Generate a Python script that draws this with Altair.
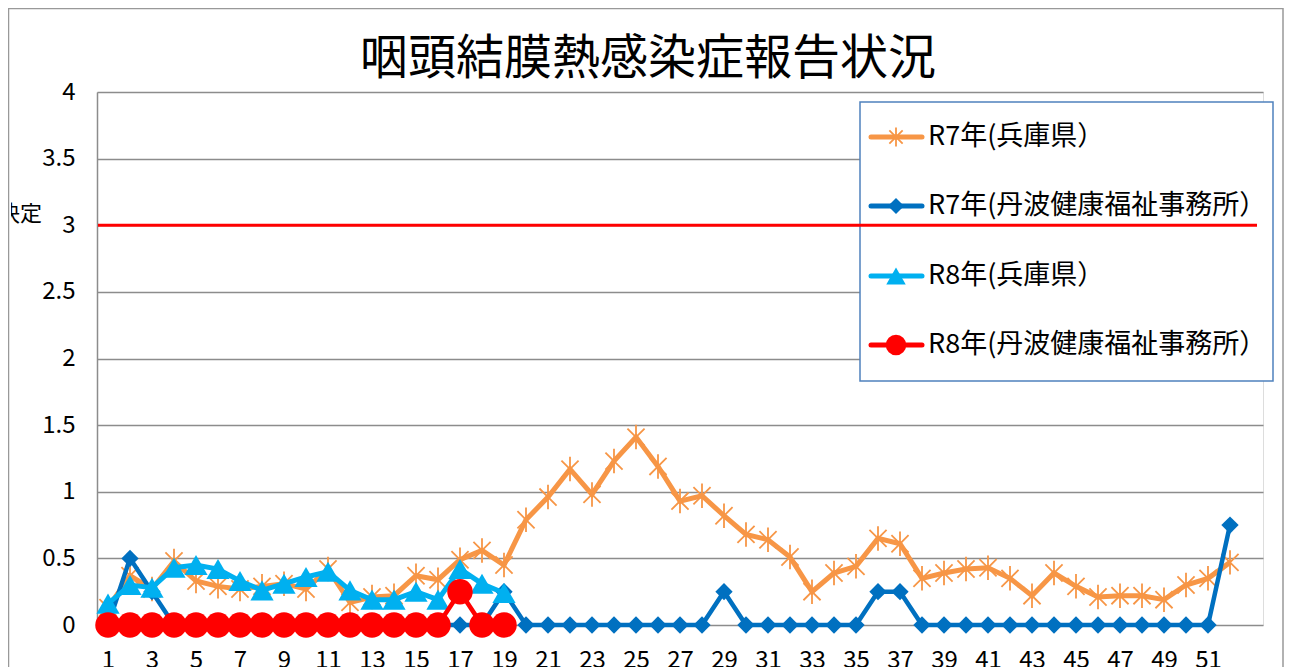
import altair as alt
import pandas as pd

weeks = list(range(1, 53))
r7_hyogo = [0.13, 0.37, 0.27, 0.48, 0.33, 0.29, 0.27, 0.29, 0.31, 0.27,
            0.42, 0.17, 0.21, 0.22, 0.37, 0.34, 0.49, 0.56, 0.45, 0.79,
            0.96, 1.17, 0.98, 1.23, 1.41, 1.19, 0.93, 0.97, 0.82, 0.68,
            0.64, 0.51, 0.25, 0.39, 0.44, 0.65, 0.61, 0.35, 0.39, 0.42,
            0.43, 0.35, 0.22, 0.39, 0.29, 0.21, 0.22, 0.22, 0.19, 0.30,
            0.35, 0.47]
r7_tanba = [0, 0.5, 0.25, 0, 0, 0, 0, 0, 0, 0,
            0, 0, 0, 0, 0, 0, 0, 0, 0.25, 0,
            0, 0, 0, 0, 0, 0, 0, 0, 0.25, 0,
            0, 0, 0, 0, 0, 0.25, 0.25, 0, 0, 0,
            0, 0, 0, 0, 0, 0, 0, 0, 0, 0,
            0, 0.75]
weeks_r8 = list(range(1, 20))
r8_hyogo = [0.16, 0.30, 0.28, 0.43, 0.45, 0.42, 0.33, 0.26, 0.31, 0.36,
            0.40, 0.26, 0.19, 0.19, 0.25, 0.19, 0.42, 0.31, 0.24]
r8_tanba = [0, 0, 0, 0, 0, 0, 0, 0, 0, 0,
            0, 0, 0, 0, 0, 0, 0.25, 0, 0]

series_names = ["R7年(兵庫県）", "R7年(丹波健康福祉事務所）", "R8年(兵庫県）", "R8年(丹波健康福祉事務所）"]
series_colors = ["#F79646", "#0070C0", "#00B0F0", "#FF0000"]
threshold = [3]
title_text = "咽頭結膜熱感染症報告状況"
x_ticks = list(range(1, 52, 2))
y_ticks = [0, 0.5, 1, 1.5, 2, 2.5, 3, 3.5, 4]

FONT = "Noto Sans CJK JP"
STAR = "M-0.7,-0.7L0.7,0.7M-0.7,0.7L0.7,-0.7M0,-1L0,1"

df = pd.concat([
    pd.DataFrame({"week": weeks, "value": r7_hyogo, "s": series_names[0]}),
    pd.DataFrame({"week": weeks, "value": r7_tanba, "s": series_names[1]}),
    pd.DataFrame({"week": weeks_r8, "value": r8_hyogo, "s": series_names[2]}),
    pd.DataFrame({"week": weeks_r8, "value": r8_tanba, "s": series_names[3]}),
])

W, H = 1166, 533
xs = alt.Scale(domain=[0.5, 53.5], nice=False, zero=False)
ys = alt.Scale(domain=[0, 4], nice=False)

X = alt.X("week:Q", scale=xs,
          axis=alt.Axis(values=x_ticks, grid=False, ticks=False, domain=False,
                        labelFontSize=24, labelFont=FONT, labelColor="#000",
                        labelPadding=23, title=None, labelFlush=False))
Y = alt.Y("value:Q", scale=ys,
          axis=alt.Axis(values=y_ticks, grid=True, gridColor="#8c8c8c", gridWidth=1.5,
                        ticks=False, domain=True, domainColor="#8c8c8c", domainWidth=1.5,
                        labelFontSize=24, labelFont=FONT, labelColor="#000",
                        labelExpr="'' + datum.value",
                        labelPadding=22, title=None))

marker_cfg = [
    dict(shape=STAR, size=600, filled=False, strokeWidth=1.8, lw=5),
    dict(shape="diamond", size=300, filled=True, strokeWidth=0, lw=4.5),
    dict(shape="triangle-up", size=540, filled=True, strokeWidth=0, lw=5),
    dict(shape="circle", size=650, filled=True, strokeWidth=0, lw=4.5),
]
legend_sizes = [360, 260, 380, 420]

base = alt.Chart(df)
layers = []

# clipped axis title remnant
layers.append(alt.Chart(pd.DataFrame({"t": ["決定"]})).mark_text(
    font=FONT, fontSize=22, color="#000", align="right", baseline="middle").encode(
    text="t:N", x=alt.value(-55), y=alt.value(122)))

# page edge mask (the reference is cropped just left of its frame)
layers.append(alt.Chart(pd.DataFrame({"a": [0]})).mark_rect(
    fill="white", stroke=None).encode(
    x=alt.value(-110), x2=alt.value(-86), y=alt.value(-100), y2=alt.value(700)))

# outer frame
layers.append(alt.Chart(pd.DataFrame({"a": [0]})).mark_rect(
    fill=None, stroke="#999999", strokeWidth=1.5).encode(
    x=alt.value(-88.5), x2=alt.value(1186), y=alt.value(-83.5), y2=alt.value(800)))

# title
layers.append(alt.Chart(pd.DataFrame({"t": [title_text]})).mark_text(
    font=FONT, fontSize=48, color="#000", align="center", baseline="middle").encode(
    text="t:N", x=alt.value(551), y=alt.value(-32)))

# axes carrier
layers.append(base.mark_point(opacity=0).encode(x=X, y=Y))

for name, color, cfg in zip(series_names, series_colors, marker_cfg):
    sub = base.transform_filter(alt.datum.s == name)
    layers.append(sub.mark_line(color=color, strokeWidth=cfg["lw"]).encode(
        x=alt.X("week:Q", scale=xs), y=alt.Y("value:Q", scale=ys)))
    pkw = dict(shape=cfg["shape"], size=cfg["size"], filled=cfg["filled"], opacity=1)
    if cfg["filled"]:
        pkw.update(fill=color, stroke=color, strokeWidth=0)
    else:
        pkw.update(stroke=color, strokeWidth=cfg["strokeWidth"], fill=None)
    layers.append(sub.mark_point(**pkw).encode(
        x=alt.X("week:Q", scale=xs), y=alt.Y("value:Q", scale=ys)))

# legend box
layers.append(alt.Chart(pd.DataFrame({"a": [0]})).mark_rect(
    fill="white", stroke="#4F81BD", strokeWidth=1.5).encode(
    x=alt.value(763), x2=alt.value(1176), y=alt.value(10), y2=alt.value(289)))

leg_y = [45, 114, 184, 253]
for name, color, cfg, ly, ls in zip(series_names, series_colors, marker_cfg, leg_y, legend_sizes):
    one = alt.Chart(pd.DataFrame({"t": [name]}))
    layers.append(one.mark_rule(color=color, strokeWidth=5, strokeCap="round").encode(
        x=alt.value(774), x2=alt.value(825), y=alt.value(ly)))
    pkw = dict(shape=cfg["shape"], size=ls, filled=cfg["filled"], opacity=1)
    if cfg["filled"]:
        pkw.update(fill=color, stroke=color, strokeWidth=0)
    else:
        pkw.update(stroke=color, strokeWidth=cfg["strokeWidth"], fill=None)
    layers.append(one.mark_point(**pkw).encode(x=alt.value(799), y=alt.value(ly)))
    layers.append(one.mark_text(font=FONT, fontSize=27, color="#000", align="left",
                                baseline="middle").encode(
        text="t:N", x=alt.value(831), y=alt.value(ly)))

# threshold line (drawn above the legend box, as in the reference)
layers.append(alt.Chart(pd.DataFrame({"v": threshold})).mark_rule(
    color="#FF0000", strokeWidth=3).encode(
    y=alt.Y("v:Q", scale=ys), x=alt.value(1), x2=alt.value(1160)))

chart = alt.layer(*layers).properties(
    width=W, height=H,
    padding={"left": 89, "top": 84, "right": 22, "bottom": 60},
    autosize=alt.AutoSizeParams(type="none"),
).configure_view(stroke=None).configure(background="white")

chart.save("out.html", embed_options={"renderer": "svg", "actions": False})
